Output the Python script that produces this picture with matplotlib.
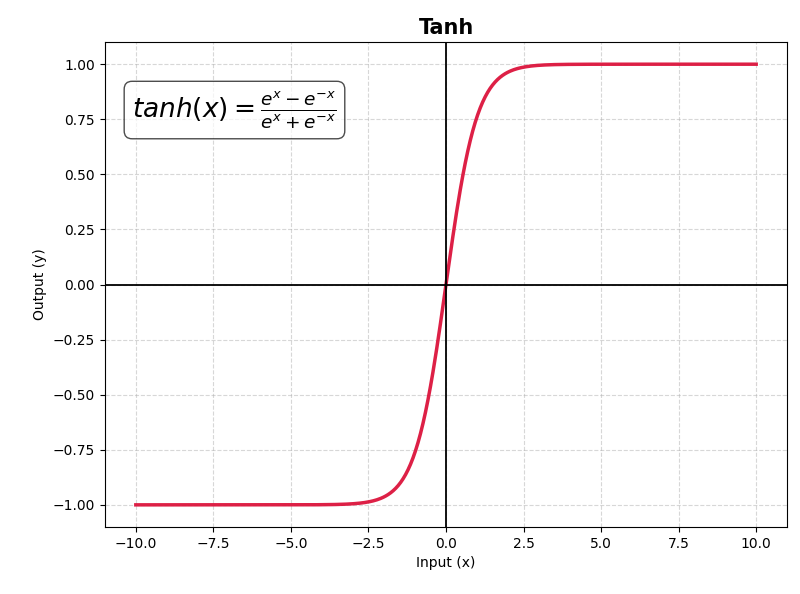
import matplotlib
matplotlib.use("Agg")
import matplotlib.pyplot as plt
import numpy as np

# input range shown on the chart, and the plotted function
x_min, x_max = -10.0, 10.0
x = np.linspace(x_min, x_max, 500)
y = np.tanh(x)

fig, ax = plt.subplots(figsize=(8, 5.94), dpi=100)
fig.subplots_adjust(left=0.131, right=0.984, top=0.929, bottom=0.113)

ax.plot(x, y, color="#DC143C", lw=2.5, alpha=0.95)
ax.axhline(0, color="black", lw=1.3)
ax.axvline(0, color="black", lw=1.3)
ax.grid(True, ls="--", alpha=0.5)

ax.set_title("Tanh", fontsize=15, fontweight="bold")
ax.set_xlabel("Input (x)")
ax.set_ylabel("Output (y)")
ax.set_yticks(np.arange(-1.0, 1.01, 0.25))

ax.text(0.04, 0.86, r"$tanh(x) = \frac{e^x - e^{-x}}{e^x + e^{-x}}$",
        transform=ax.transAxes, fontsize=19, va="center",
        bbox=dict(boxstyle="round,pad=0.3", facecolor="white", edgecolor="black", alpha=0.7))

fig.savefig("out.png")
